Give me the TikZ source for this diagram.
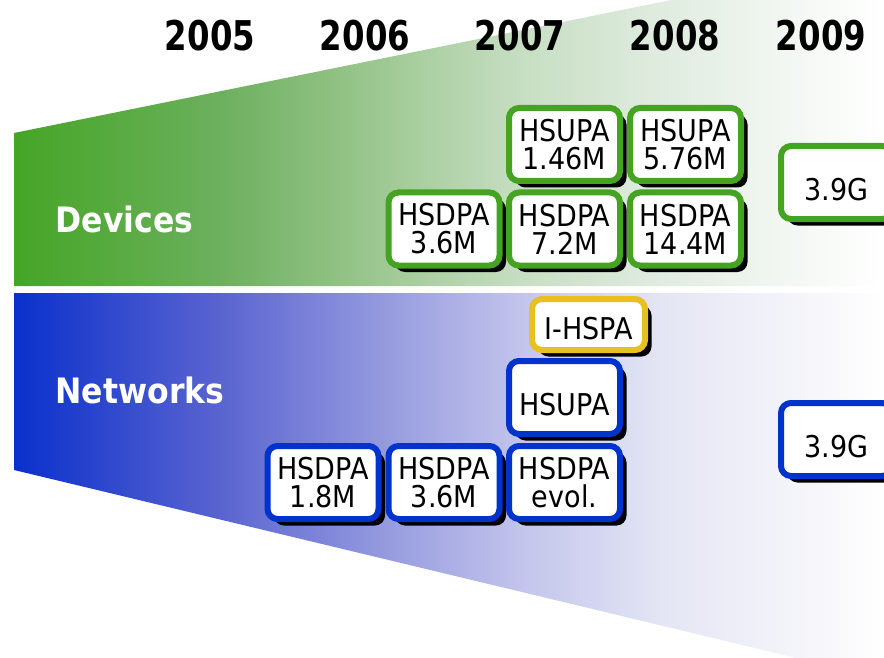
\documentclass[tikz,border=0pt]{standalone}
\usepackage{fontspec}
\setmainfont{DejaVu Sans}
\newfontfamily\yearfont[FakeStretch=0.79]{DejaVu Sans}
\newfontfamily\labfont[FakeStretch=0.9]{DejaVu Sans}
\newfontfamily\boxfont[FakeStretch=0.9]{DejaVu Sans}
\usetikzlibrary{shadows}
\definecolor{gborder}{HTML}{44A320}
\definecolor{bborder}{HTML}{0033CC}
\definecolor{yborder}{HTML}{E8C020}
\definecolor{g0}{HTML}{45A525}
\definecolor{g1}{HTML}{6CB05E}
\definecolor{g2}{HTML}{95C488}
\definecolor{g3}{HTML}{B0D2A8}
\definecolor{g4}{HTML}{C8DFC4}
\definecolor{g5}{HTML}{E0ECE0}
\definecolor{g6}{HTML}{F4F8F4}
\definecolor{b0}{HTML}{0A30CC}
\definecolor{b1}{HTML}{5A64D0}
\definecolor{b2}{HTML}{8A90DC}
\definecolor{b3}{HTML}{A8ACE4}
\definecolor{b4}{HTML}{C4C6EC}
\definecolor{b5}{HTML}{E4E6F4}
\definecolor{b6}{HTML}{F4F4FA}
\pgfdeclarehorizontalshading{greenfade}{100bp}{color(0bp)=(g0); color(25bp)=(g0); color(36.85bp)=(g1); color(44.5bp)=(g2); color(49.5bp)=(g3); color(54.5bp)=(g4); color(62.3bp)=(g5); color(70bp)=(g6); color(75bp)=(white); color(100bp)=(white)}
\pgfdeclarehorizontalshading{bluefade}{100bp}{color(0bp)=(b0); color(25bp)=(b0); color(36.85bp)=(b1); color(44.5bp)=(b2); color(49.5bp)=(b3); color(54.5bp)=(b4); color(62.3bp)=(b5); color(70bp)=(b6); color(75bp)=(white); color(100bp)=(white)}
\begin{document}
\begin{tikzpicture}[x=1pt,y=-1pt,
  box/.style={draw=#1, line width=6pt, fill=white, rounded corners=10pt,
    minimum width=111pt, minimum height=73pt, inner sep=0pt, align=center,
    font=\boxfont\fontsize{30}{28}\selectfont,
    drop shadow={shadow xshift=6.5pt, shadow yshift=-6.5pt, opacity=1, fill=black}},
  single/.style={text height=36pt, text depth=0pt},
  year/.style={anchor=base, font=\yearfont\bfseries\fontsize{41}{41}\selectfont},
  lab/.style={anchor=base west, text=white, font=\labfont\bfseries\fontsize{35}{35}\selectfont}]
\clip (0,0) rectangle (884,658);
\fill[white] (0,0) rectangle (884,658);
\shade[shading=greenfade] (14,133) -- (671,0) -- (884,-43) -- (884,286) -- (14,286) -- cycle;
\shade[shading=bluefade] (14,293) -- (884,293) -- (884,679) -- (14,470) -- cycle;
% years
\node[year] (y2005) at (210,51) {2005};
\node[year] (y2006) at (365,51) {2006};
\node[year] (y2007) at (520,51) {2007};
\node[year] (y2008) at (675,51) {2008};
\node[year] (y2009) at (821,51) {2009};
% labels
\node[lab] (devices) at (52,233) {Devices};
\node[lab] (networks) at (52,403) {Networks};
% devices
\node[box=gborder] (d1) at (564.5,144.5) {HSUPA\\1.46M};
\node[box=gborder] (d2) at (685.5,144.5) {HSUPA\\5.76M};
\node[box=gborder, single] (d6) at (836.5,182.5) {3.9G};
\node[box=gborder] (d3) at (444,229) {HSDPA\\3.6M};
\node[box=gborder] (d4) at (564.5,229) {HSDPA\\7.2M};
\node[box=gborder] (d5) at (685.5,229) {HSDPA\\14.4M};
% networks
\node[box=yborder, minimum width=113pt, minimum height=51pt, text height=29pt, text depth=0pt] (n1) at (588.5,324.5) {I-HSPA};
\node[box=bborder, single] (n2) at (564.5,397.5) {HSUPA};
\node[box=bborder, single] (n6) at (836.5,439.5) {3.9G};
\node[box=bborder] (n3) at (323,482.5) {HSDPA\\1.8M};
\node[box=bborder] (n4) at (444,482.5) {HSDPA\\3.6M};
\node[box=bborder] (n5) at (564.5,482.5) {HSDPA\\evol.};
\end{tikzpicture}
\end{document}
